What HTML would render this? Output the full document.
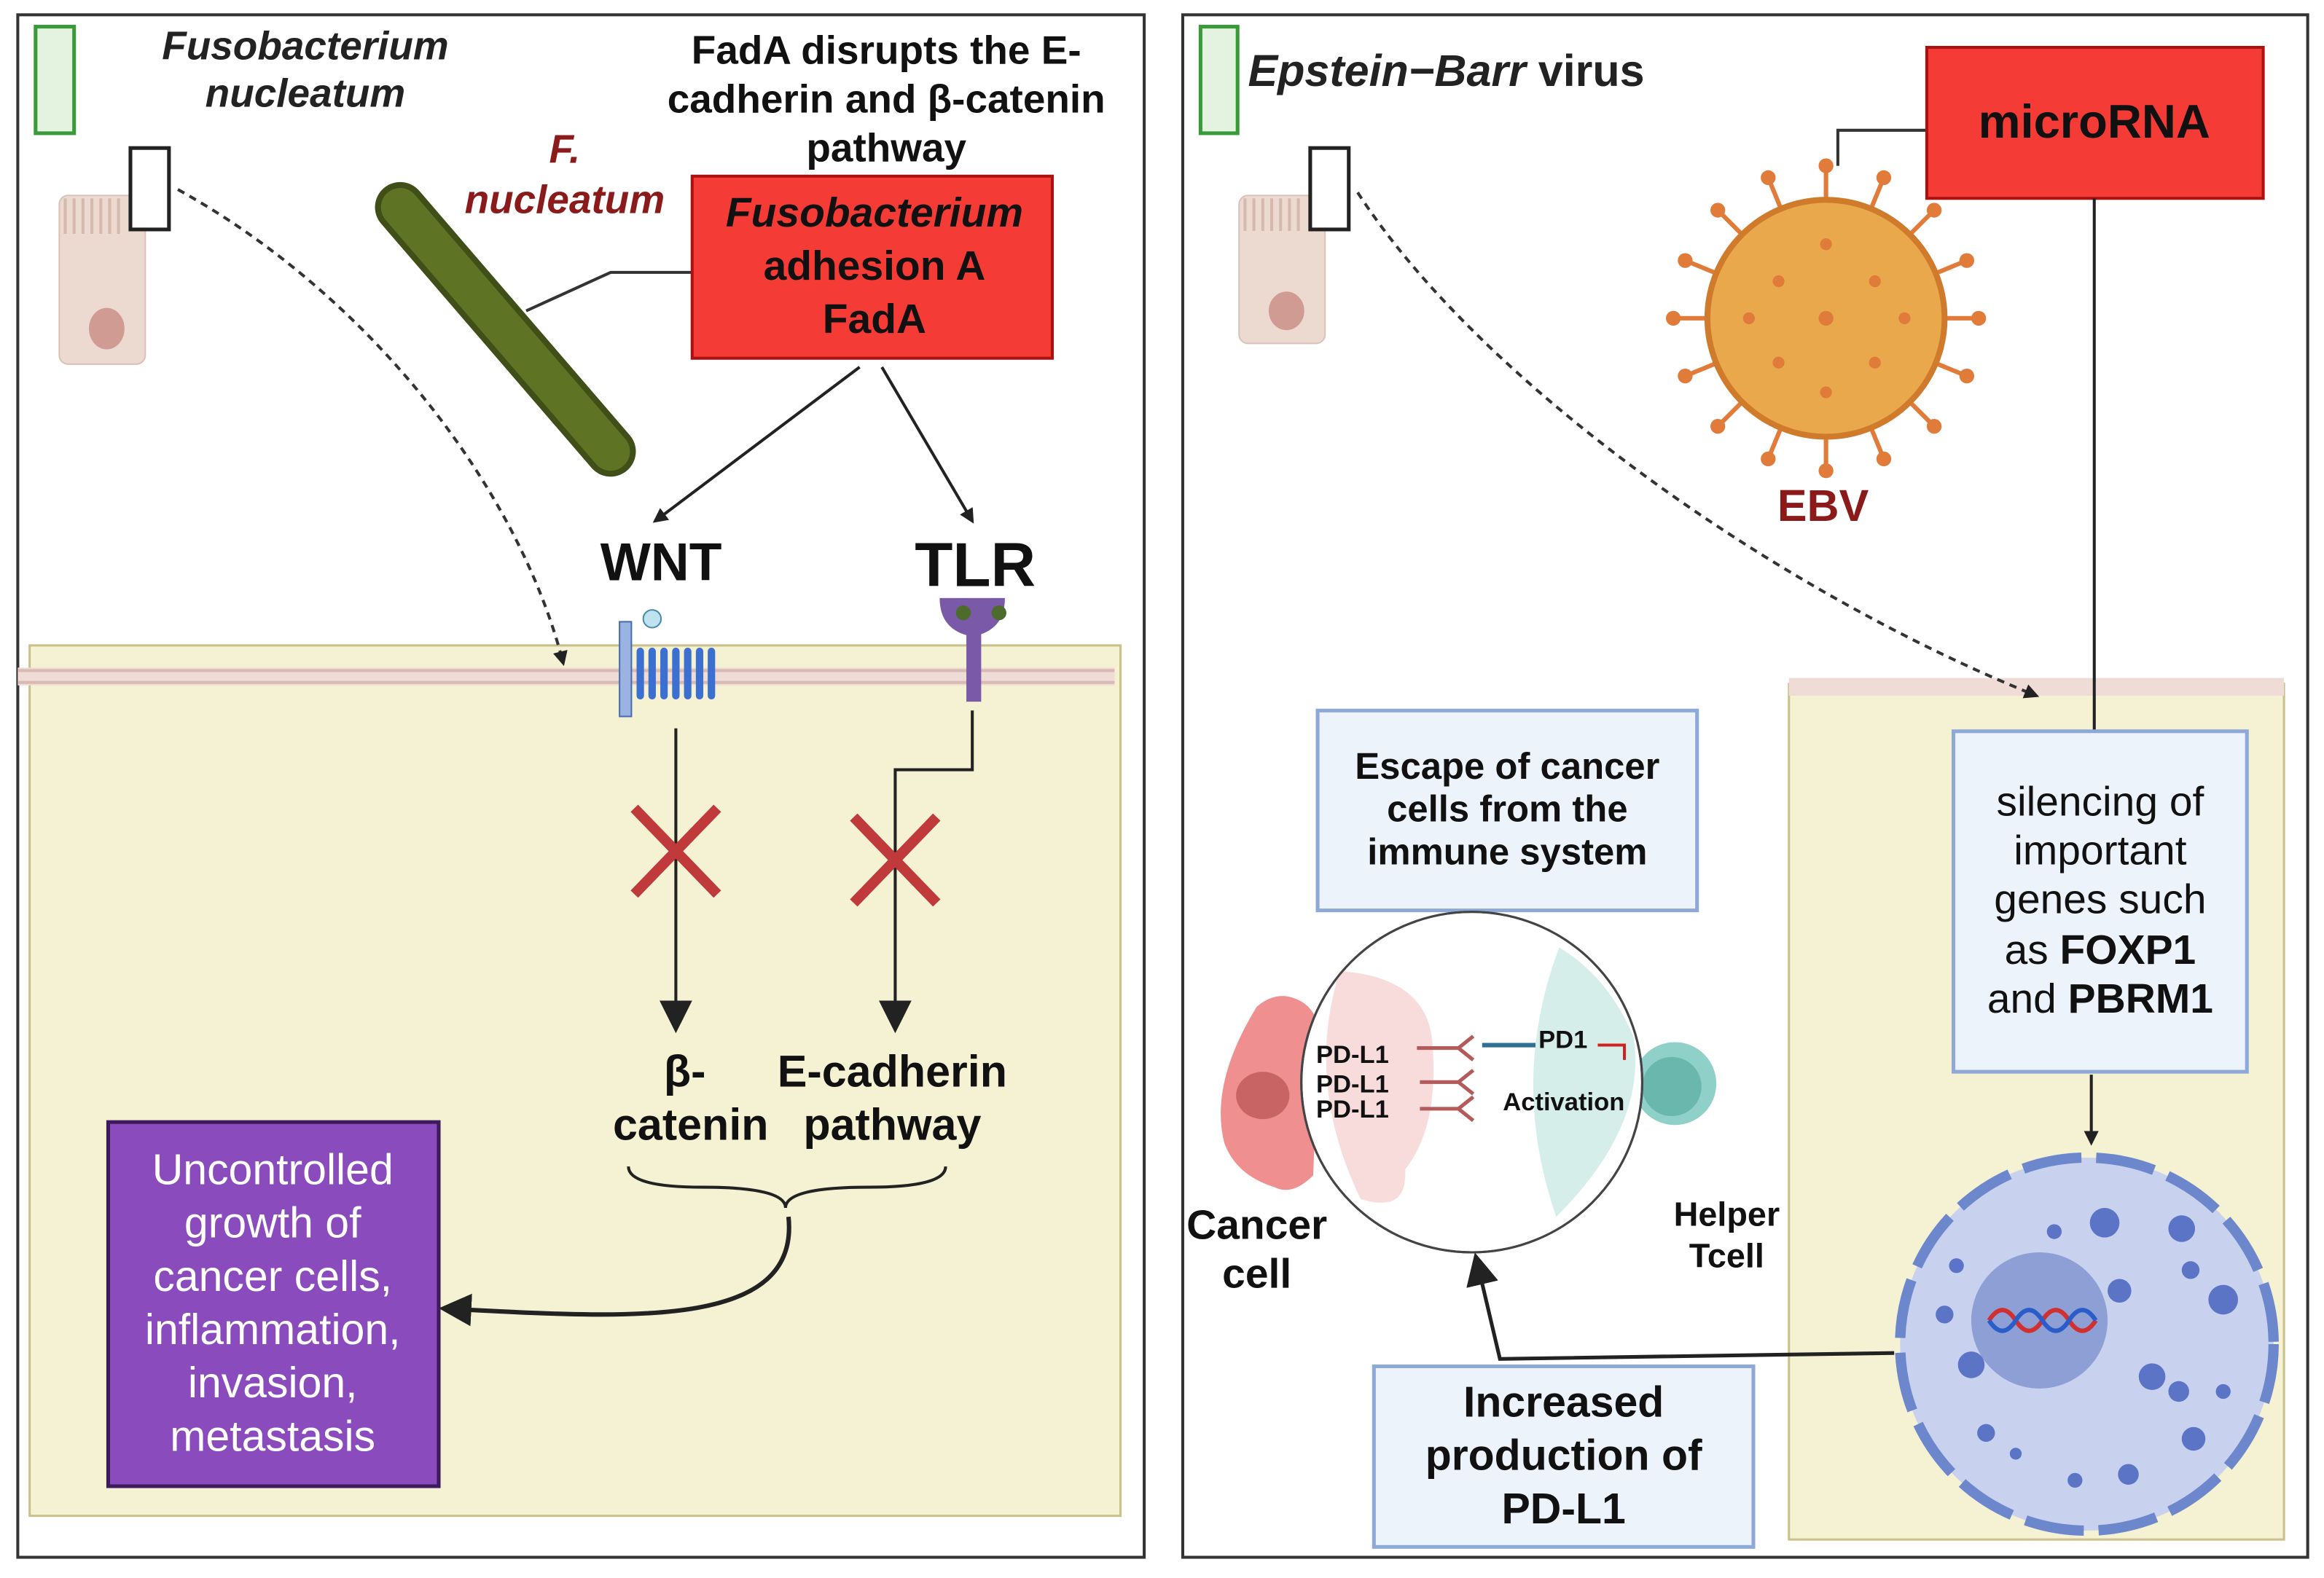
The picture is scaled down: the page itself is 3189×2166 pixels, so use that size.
<!DOCTYPE html>
<html><head><meta charset="utf-8"><style>
html,body{margin:0;padding:0;background:#fff;}
svg{display:block;}
text{font-family:"Liberation Sans",sans-serif;}
</style></head><body>
<svg width="3189" height="2166" viewBox="0 0 1568 1066" preserveAspectRatio="none" xmlns="http://www.w3.org/2000/svg">
<defs>
<marker id="ar" markerWidth="10" markerHeight="10" refX="8" refY="5" orient="auto" markerUnits="userSpaceOnUse"><path d="M0,0 L10,5 L0,10 z" fill="#222"/></marker>
<marker id="ab" markerWidth="22" markerHeight="22" refX="18" refY="11" orient="auto" markerUnits="userSpaceOnUse"><path d="M0,0 L22,11 L0,22 z" fill="#222"/></marker>
</defs>
<rect width="1568" height="1066" fill="#fff"/>
<!-- LEFT PANEL -->
<rect x="12" y="10" width="760" height="1042" fill="#fff" stroke="#333" stroke-width="2"/>
<rect x="20" y="436" width="736" height="588" fill="#f5f1d3" stroke="#c9c08a" stroke-width="1.5"/>
<rect x="12" y="451" width="740" height="12" fill="#efdcd6"/>
<line x1="12" y1="453" x2="752" y2="453" stroke="#d9b9b4" stroke-width="2"/>
<line x1="12" y1="461" x2="752" y2="461" stroke="#d9b9b4" stroke-width="2"/>
<rect x="24" y="18" width="26" height="72" fill="#e3f3df" stroke="#3a9a3a" stroke-width="2.5"/>
<text x="206" y="40" font-size="27" font-weight="bold" font-style="italic" text-anchor="middle" fill="#222">Fusobacterium</text>
<text x="206" y="72" font-size="27" font-weight="bold" font-style="italic" text-anchor="middle" fill="#222">nucleatum</text>
<text x="598" y="43" font-size="27" font-weight="bold" text-anchor="middle" fill="#111">FadA disrupts the E-</text>
<text x="598" y="76" font-size="27" font-weight="bold" text-anchor="middle" fill="#111">cadherin and β-catenin</text>
<text x="598" y="109" font-size="27" font-weight="bold" text-anchor="middle" fill="#111">pathway</text>
<!-- epithelial cell -->
<rect x="40" y="132" width="58" height="114" rx="6" fill="#ecd9d0" stroke="#d9c2b8"/>
<g stroke="#d3b9ae" stroke-width="2"><line x1="44" y1="134" x2="44" y2="158"/><line x1="50" y1="134" x2="50" y2="158"/><line x1="56" y1="134" x2="56" y2="158"/><line x1="62" y1="134" x2="62" y2="158"/><line x1="68" y1="134" x2="68" y2="158"/><line x1="74" y1="134" x2="74" y2="158"/><line x1="80" y1="134" x2="80" y2="158"/></g>
<ellipse cx="72" cy="222" rx="12" ry="14" fill="#cf9b92"/>
<rect x="88" y="100" width="26" height="55" fill="#fff" stroke="#222" stroke-width="2.5"/>
<path d="M120,128 C250,200 350,330 380,448" fill="none" stroke="#333" stroke-width="2" stroke-dasharray="5,4" marker-end="url(#ar)"/>
<!-- bacterium -->
<line x1="270" y1="140" x2="412" y2="305" stroke="#3f4f17" stroke-width="34" stroke-linecap="round"/>
<line x1="270" y1="140" x2="412" y2="305" stroke="#5e7424" stroke-width="26" stroke-linecap="round"/>
<text x="381" y="110" font-size="27" font-weight="bold" font-style="italic" text-anchor="middle" fill="#8b1a1a">F.</text>
<text x="381" y="144" font-size="27" font-weight="bold" font-style="italic" text-anchor="middle" fill="#8b1a1a">nucleatum</text>
<polyline points="355,210 412,184 468,184" fill="none" stroke="#333" stroke-width="2"/>
<rect x="467" y="119" width="243" height="123" fill="#f53b35" stroke="#a11" stroke-width="2"/>
<text x="590" y="153" font-size="28" font-weight="bold" font-style="italic" text-anchor="middle" fill="#111">Fusobacterium</text>
<text x="590" y="189" font-size="28" font-weight="bold" text-anchor="middle" fill="#111">adhesion A</text>
<text x="590" y="225" font-size="28" font-weight="bold" text-anchor="middle" fill="#111">FadA</text>
<line x1="580" y1="248" x2="442" y2="352" stroke="#222" stroke-width="2" marker-end="url(#ar)"/>
<line x1="595" y1="248" x2="656" y2="352" stroke="#222" stroke-width="2" marker-end="url(#ar)"/>
<text x="446" y="392" font-size="36" font-weight="bold" text-anchor="middle" fill="#111">WNT</text>
<text x="658" y="396" font-size="42" font-weight="bold" text-anchor="middle" fill="#111">TLR</text>
<!-- WNT receptor -->
<rect x="418" y="420" width="8" height="64" fill="#9bb3e0" stroke="#4a6bb0"/>
<circle cx="440" cy="418" r="6" fill="#bfe3ee" stroke="#4a8aa8"/>
<path d="M432,440 v30 m8,-30 v30 m8,-30 v30 m8,-30 v30 m8,-30 v30 m8,-30 v30 m8,-30 v30" stroke="#3b6fd0" stroke-width="5" stroke-linecap="round"/>
<!-- TLR -->
<path d="M634,404 q0,22 22,26 q22,-4 22,-26 z" fill="#7a5aa8"/>
<circle cx="650" cy="414" r="5" fill="#4d6b2a"/><circle cx="674" cy="414" r="5" fill="#4d6b2a"/>
<rect x="652" y="426" width="10" height="48" fill="#7a5aa8"/>
<!-- connectors -->
<line x1="456" y1="492" x2="456" y2="694" stroke="#222" stroke-width="2" marker-end="url(#ab)"/>
<polyline points="656,480 656,520 604,520 604,694" fill="none" stroke="#222" stroke-width="2" marker-end="url(#ab)"/>
<g stroke="#c0393b" stroke-width="7"><line x1="428" y1="546" x2="484" y2="604"/><line x1="484" y1="546" x2="428" y2="604"/><line x1="576" y1="552" x2="632" y2="610"/><line x1="632" y1="552" x2="576" y2="610"/></g>
<text x="462" y="734" font-size="30" font-weight="bold" text-anchor="middle" fill="#111">β-</text>
<text x="466" y="770" font-size="30" font-weight="bold" text-anchor="middle" fill="#111">catenin</text>
<text x="602" y="734" font-size="30" font-weight="bold" text-anchor="middle" fill="#111">E-cadherin</text>
<text x="602" y="770" font-size="30" font-weight="bold" text-anchor="middle" fill="#111">pathway</text>
<path d="M424,788 q0,14 50,14 q56,0 56,14 q0,-14 56,-14 q52,0 52,-14" fill="none" stroke="#222" stroke-width="2"/>
<path d="M532,822 C540,900 420,890 300,884" fill="none" stroke="#222" stroke-width="3" marker-end="url(#ab)"/>
<rect x="73" y="758" width="223" height="246" fill="#8a4bbd" stroke="#3d1a5c" stroke-width="2.5"/>
<g font-size="29" text-anchor="middle" fill="#fff"><text x="184" y="800">Uncontrolled</text><text x="184" y="836">growth of</text><text x="184" y="872">cancer cells,</text><text x="184" y="908">inflammation,</text><text x="184" y="944">invasion,</text><text x="184" y="980">metastasis</text></g>
<!-- RIGHT PANEL -->
<rect x="798" y="10" width="759" height="1042" fill="#fff" stroke="#333" stroke-width="2"/>
<rect x="1207" y="462" width="334" height="578" fill="#f5f1d3" stroke="#c9c08a" stroke-width="1.5"/>
<rect x="1207" y="458" width="334" height="12" fill="#efdcd6"/>
<rect x="810" y="18" width="25" height="72" fill="#e3f3df" stroke="#3a9a3a" stroke-width="2.5"/>
<text x="842" y="58" font-size="30" font-weight="bold" font-style="italic" fill="#222">Epstein−Barr <tspan font-style="normal">virus</tspan></text>
<rect x="836" y="132" width="58" height="100" rx="6" fill="#ecd9d0" stroke="#d9c2b8"/>
<g stroke="#d3b9ae" stroke-width="2"><line x1="840" y1="134" x2="840" y2="156"/><line x1="846" y1="134" x2="846" y2="156"/><line x1="852" y1="134" x2="852" y2="156"/><line x1="858" y1="134" x2="858" y2="156"/><line x1="864" y1="134" x2="864" y2="156"/><line x1="870" y1="134" x2="870" y2="156"/><line x1="876" y1="134" x2="876" y2="156"/></g>
<ellipse cx="868" cy="210" rx="12" ry="13" fill="#cf9b92"/>
<rect x="884" y="100" width="26" height="55" fill="#fff" stroke="#222" stroke-width="2.5"/>
<path d="M916,130 C1000,260 1200,400 1374,470" fill="none" stroke="#333" stroke-width="2" stroke-dasharray="5,4" marker-end="url(#ar)"/>
<!-- EBV -->
<g stroke="#e07b3a" stroke-width="3">
<line x1="1232" y1="112" x2="1232" y2="318"/><line x1="1129" y1="215" x2="1335" y2="215"/>
<line x1="1159" y1="142" x2="1305" y2="288"/><line x1="1305" y1="142" x2="1159" y2="288"/>
<line x1="1193" y1="120" x2="1271" y2="310"/><line x1="1271" y1="120" x2="1193" y2="310"/>
<line x1="1137" y1="176" x2="1327" y2="254"/><line x1="1327" y1="176" x2="1137" y2="254"/>
</g>
<circle cx="1232" cy="215" r="80" fill="#eaa84c" stroke="#d07a2c" stroke-width="4"/>
<g fill="#e07b3a"><circle cx="1232" cy="112" r="5"/><circle cx="1232" cy="318" r="5"/><circle cx="1129" cy="215" r="5"/><circle cx="1335" cy="215" r="5"/><circle cx="1159" cy="142" r="5"/><circle cx="1305" cy="288" r="5"/><circle cx="1305" cy="142" r="5"/><circle cx="1159" cy="288" r="5"/><circle cx="1193" cy="120" r="5"/><circle cx="1271" cy="310" r="5"/><circle cx="1271" cy="120" r="5"/><circle cx="1193" cy="310" r="5"/><circle cx="1137" cy="176" r="5"/><circle cx="1327" cy="254" r="5"/><circle cx="1327" cy="176" r="5"/><circle cx="1137" cy="254" r="5"/>
<circle cx="1232" cy="215" r="5"/><circle cx="1200" cy="190" r="4"/><circle cx="1265" cy="190" r="4"/><circle cx="1200" cy="245" r="4"/><circle cx="1265" cy="245" r="4"/><circle cx="1232" cy="165" r="4"/><circle cx="1232" cy="265" r="4"/><circle cx="1180" cy="215" r="4"/><circle cx="1285" cy="215" r="4"/></g>
<text x="1230" y="352" font-size="30" font-weight="bold" text-anchor="middle" fill="#8b1a1a">EBV</text>
<polyline points="1240,112 1240,88 1300,88" fill="none" stroke="#333" stroke-width="2"/>
<rect x="1300" y="32" width="227" height="102" fill="#f53b35" stroke="#a11" stroke-width="2"/>
<text x="1413" y="93" font-size="32" font-weight="bold" text-anchor="middle" fill="#111">microRNA</text>
<line x1="1413" y1="134" x2="1413" y2="494" stroke="#222" stroke-width="2"/>
<rect x="1318" y="494" width="198" height="230" fill="#edf3fb" stroke="#8ea8d8" stroke-width="2.5"/>
<g font-size="28" text-anchor="middle" fill="#111"><text x="1417" y="551">silencing of</text><text x="1417" y="584">important</text><text x="1417" y="617">genes such</text><text x="1417" y="651">as <tspan font-weight="bold">FOXP1</tspan></text><text x="1417" y="684">and <tspan font-weight="bold">PBRM1</tspan></text></g>
<line x1="1411" y1="726" x2="1411" y2="772" stroke="#222" stroke-width="2" marker-end="url(#ar)"/>
<!-- nucleus -->
<ellipse cx="1408" cy="908" rx="126" ry="126" fill="#c8d2ef" stroke="#6d87cc" stroke-width="7" stroke-dasharray="40,10"/>
<circle cx="1376" cy="892" r="46" fill="#8e9fd6"/>
<path d="M1342,892 q9,-14 18,0 t18,0 t18,0 t18,0" fill="none" stroke="#d03030" stroke-width="3"/>
<path d="M1342,892 q9,14 18,0 t18,0 t18,0 t18,0" fill="none" stroke="#2a5dc8" stroke-width="3"/>
<g fill="#5b74c6"><circle cx="1420" cy="826" r="10"/><circle cx="1472" cy="830" r="9"/><circle cx="1478" cy="858" r="6"/><circle cx="1500" cy="878" r="10"/><circle cx="1430" cy="872" r="8"/><circle cx="1452" cy="930" r="9"/><circle cx="1470" cy="940" r="7"/><circle cx="1330" cy="922" r="9"/><circle cx="1312" cy="888" r="6"/><circle cx="1340" cy="968" r="6"/><circle cx="1436" cy="996" r="7"/><circle cx="1480" cy="972" r="8"/><circle cx="1360" cy="982" r="4"/><circle cx="1400" cy="1000" r="5"/><circle cx="1386" cy="832" r="5"/><circle cx="1320" cy="855" r="5"/><circle cx="1500" cy="940" r="5"/></g>
<!-- immune circle -->
<rect x="889" y="480" width="256" height="135" fill="#edf3fb" stroke="#8ea8d8" stroke-width="2.5"/>
<g font-size="25" font-weight="bold" text-anchor="middle" fill="#111"><text x="1017" y="526">Escape of cancer</text><text x="1017" y="555">cells from the</text><text x="1017" y="584">immune system</text></g>
<path d="M848,680 q12,-10 24,-6 q14,4 18,20 l-4,100 q-14,14 -26,8 q-26,-8 -34,-30 q-10,-40 22,-92z" fill="#ef8f8f"/>
<ellipse cx="852" cy="740" rx="18" ry="16" fill="#c86464"/>
<circle cx="1130" cy="732" r="28" fill="#8fd0c8"/><circle cx="1128" cy="734" r="20" fill="#6ab8ad"/>
<circle cx="993" cy="731" r="115" fill="#fff" stroke="#444" stroke-width="1.5"/>
<path d="M904,656 Q880,731 918,810 Q950,820 948,790 Q972,760 966,700 Q960,660 904,656z" fill="#f8dcdc"/>
<path d="M1052,640 Q1018,730 1050,822 Q1112,760 1102,700 Q1085,660 1052,640z" fill="#d6eeea"/>
<circle cx="993" cy="731" r="115" fill="none" stroke="#444" stroke-width="1.5"/>
<g font-size="17" font-weight="bold" fill="#111"><text x="888" y="718">PD-L1</text><text x="888" y="738">PD-L1</text><text x="888" y="755">PD-L1</text><text x="1038" y="708">PD1</text><text x="1014" y="750">Activation</text></g>
<g stroke="#b35a5a" stroke-width="2.5" fill="none"><path d="M956,708 h28 l10,-8 M984,708 l10,8"/><path d="M958,731 h26 l10,-8 M984,731 l10,8"/><path d="M958,749 h26 l10,-8 M984,749 l10,8"/></g>
<line x1="1000" y1="706" x2="1036" y2="706" stroke="#2f6f96" stroke-width="3"/>
<polyline points="1078,706 1096,706 1096,716" fill="none" stroke="#d02020" stroke-width="2"/>
<text x="848" y="837" font-size="28" font-weight="bold" text-anchor="middle" fill="#111">Cancer</text>
<text x="848" y="870" font-size="28" font-weight="bold" text-anchor="middle" fill="#111">cell</text>
<text x="1165" y="828" font-size="23" font-weight="bold" text-anchor="middle" fill="#111">Helper</text>
<text x="1165" y="856" font-size="23" font-weight="bold" text-anchor="middle" fill="#111">Tcell</text>
<polyline points="1278,914 1012,918 996,850" fill="none" stroke="#222" stroke-width="2.5" marker-end="url(#ab)"/>
<rect x="927" y="923" width="256" height="122" fill="#edf3fb" stroke="#8ea8d8" stroke-width="2.5"/>
<g font-size="29" font-weight="bold" text-anchor="middle" fill="#111"><text x="1055" y="957">Increased</text><text x="1055" y="993">production of</text><text x="1055" y="1029">PD-L1</text></g>
</svg>
</body></html>
